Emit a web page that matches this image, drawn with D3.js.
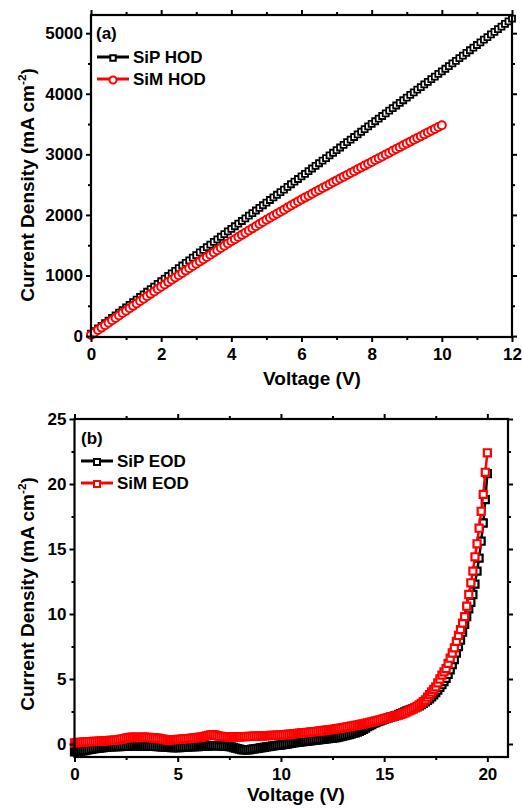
<!DOCTYPE html>
<html>
<head>
<meta charset="utf-8">
<script src="https://cdn.jsdelivr.net/npm/d3@7"></script>
<style>
  html, body { margin: 0; padding: 0; background: #fff; }
  svg { display: block; font-family: "Liberation Sans", Arial, sans-serif; font-weight: bold; }
</style>
</head>
<body>
<svg id="fig" width="522" height="808"></svg>
<script>
// ---------- Panel (a): hole-only devices ----------
const voltageStepA = 0.1;
const sipHOD = [
  40, 83, 126, 170, 213, 256, 299, 342, 386, 429, 472,
  515, 559, 602, 645, 688, 732, 775, 818, 862, 905,
  948, 992, 1035, 1078, 1121, 1165, 1208, 1251, 1295, 1338,
  1381, 1424, 1467, 1511, 1554, 1597, 1640, 1684, 1727, 1770,
  1813, 1857, 1900, 1943, 1987, 2030, 2073, 2116, 2160, 2203,
  2246, 2290, 2333, 2376, 2419, 2463, 2506, 2549, 2593, 2636,
  2679, 2723, 2766, 2809, 2853, 2896, 2939, 2983, 3026, 3070,
  3113, 3156, 3200, 3243, 3286, 3330, 3373, 3416, 3460, 3503,
  3546, 3590, 3633, 3676, 3720, 3763, 3806, 3850, 3893, 3937,
  3980, 4023, 4067, 4110, 4154, 4197, 4240, 4284, 4327, 4370,
  4413, 4457, 4500, 4544, 4587, 4631, 4674, 4718, 4761, 4805,
  4848, 4892, 4935, 4979, 5022, 5066, 5109, 5153, 5196, 5240
];
const simHOD = [
  20, 60, 100, 140, 180, 220, 260, 300, 340, 380, 420,
  460, 499, 539, 578, 618, 657, 697, 736, 776, 815,
  853, 891, 929, 967, 1005, 1043, 1081, 1119, 1157, 1195,
  1232, 1269, 1306, 1343, 1380, 1417, 1454, 1491, 1528, 1565,
  1600, 1636, 1671, 1707, 1742, 1778, 1813, 1849, 1884, 1920,
  1953, 1987, 2020, 2054, 2087, 2121, 2154, 2188, 2221, 2255,
  2286, 2318, 2349, 2381, 2412, 2444, 2475, 2507, 2538, 2570,
  2600, 2631, 2661, 2692, 2722, 2753, 2783, 2814, 2844, 2875,
  2905, 2936, 2966, 2997, 3027, 3058, 3088, 3119, 3149, 3180,
  3210, 3240, 3270, 3300, 3330, 3360, 3390, 3420, 3450, 3480
];
const xTicksA = [0, 2, 4, 6, 8, 10, 12];
const xMinorA = [1, 3, 5, 7, 9, 11];
const yTicksA = [0, 1000, 2000, 3000, 4000, 5000];
const yMinorA = [500, 1500, 2500, 3500, 4500];

// ---------- Panel (b): electron-only devices ----------
const voltageStepB = 0.1;
const sipEOD = [
  -0.60, -0.58, -0.56, -0.54, -0.52, -0.50, -0.47, -0.44, -0.41, -0.38, -0.35,
  -0.33, -0.31, -0.29, -0.27, -0.25, -0.24, -0.23, -0.22, -0.21, -0.20,
  -0.20, -0.20, -0.19, -0.19, -0.18, -0.17, -0.16, -0.15, -0.15, -0.15,
  -0.15, -0.16, -0.16, -0.17, -0.17, -0.18, -0.18, -0.19, -0.19, -0.20,
  -0.21, -0.22, -0.23, -0.24, -0.25, -0.26, -0.27, -0.28, -0.28, -0.28,
  -0.27, -0.26, -0.25, -0.24, -0.23, -0.22, -0.21, -0.21, -0.20, -0.20,
  -0.19, -0.18, -0.17, -0.16, -0.15, -0.14, -0.12, -0.12, -0.13, -0.15,
  -0.15, -0.16, -0.17, -0.18, -0.20, -0.23, -0.27, -0.31, -0.35, -0.40,
  -0.43, -0.45, -0.46, -0.45, -0.43, -0.40, -0.38, -0.35, -0.33, -0.30,
  -0.28, -0.25, -0.23, -0.20, -0.18, -0.15, -0.13, -0.11, -0.09, -0.08,
  -0.05, -0.03, 0.00, 0.02, 0.05, 0.08, 0.10, 0.12, 0.14, 0.16,
  0.18, 0.20, 0.22, 0.24, 0.26, 0.28, 0.30, 0.32, 0.34, 0.36,
  0.38, 0.40, 0.42, 0.44, 0.46, 0.48, 0.50, 0.53, 0.56, 0.60,
  0.64, 0.68, 0.72, 0.76, 0.81, 0.86, 0.92, 0.98, 1.05, 1.13,
  1.22, 1.33, 1.42, 1.50, 1.58, 1.65, 1.72, 1.78, 1.84, 1.90,
  1.96, 2.01, 2.06, 2.11, 2.16, 2.21, 2.27, 2.34, 2.40, 2.47,
  2.54, 2.60, 2.66, 2.72, 2.79, 2.86, 2.94, 3.03, 3.13, 3.24,
  3.36, 3.48, 3.62, 3.78, 3.96, 4.15, 4.35, 4.56, 4.80, 5.05,
  5.35, 5.70, 6.10, 6.50, 7.00, 7.50, 8.00, 8.60, 9.20, 9.80,
  10.40, 10.90, 11.50, 12.30, 13.30, 14.30, 15.60, 17.00, 18.80, 20.80
];
const simEOD = [
  0.08, 0.10, 0.12, 0.13, 0.15, 0.16, 0.17, 0.18, 0.19, 0.20, 0.20,
  0.21, 0.22, 0.23, 0.24, 0.25, 0.26, 0.27, 0.28, 0.29, 0.30,
  0.32, 0.35, 0.38, 0.42, 0.45, 0.48, 0.50, 0.52, 0.52, 0.50,
  0.50, 0.51, 0.52, 0.52, 0.51, 0.50, 0.49, 0.48, 0.47, 0.45,
  0.43, 0.40, 0.37, 0.33, 0.30, 0.30, 0.32, 0.33, 0.34, 0.35,
  0.36, 0.38, 0.39, 0.40, 0.42, 0.44, 0.45, 0.47, 0.48, 0.50,
  0.52, 0.55, 0.58, 0.62, 0.66, 0.70, 0.72, 0.70, 0.65, 0.60,
  0.58, 0.57, 0.56, 0.55, 0.55, 0.55, 0.55, 0.55, 0.55, 0.55,
  0.56, 0.56, 0.57, 0.58, 0.58, 0.59, 0.60, 0.60, 0.61, 0.62,
  0.63, 0.63, 0.64, 0.65, 0.66, 0.66, 0.67, 0.68, 0.68, 0.69,
  0.70, 0.72, 0.73, 0.75, 0.76, 0.78, 0.79, 0.81, 0.83, 0.85,
  0.86, 0.88, 0.90, 0.91, 0.93, 0.95, 0.96, 0.98, 1.00, 1.02,
  1.04, 1.06, 1.09, 1.11, 1.13, 1.15, 1.18, 1.20, 1.22, 1.25,
  1.28, 1.31, 1.34, 1.37, 1.40, 1.43, 1.46, 1.49, 1.52, 1.55,
  1.59, 1.62, 1.66, 1.70, 1.73, 1.77, 1.81, 1.85, 1.90, 1.95,
  1.98, 2.02, 2.06, 2.10, 2.14, 2.18, 2.22, 2.27, 2.33, 2.40,
  2.47, 2.55, 2.63, 2.71, 2.80, 2.90, 3.01, 3.13, 3.26, 3.40,
  3.60, 3.80, 4.00, 4.20, 4.40, 4.70, 5.00, 5.30, 5.55, 5.80,
  6.20, 6.60, 7.00, 7.40, 7.90, 8.35, 8.80, 9.30, 9.80, 10.60,
  11.50, 12.40, 13.30, 14.40, 15.40, 16.60, 17.90, 19.20, 20.90, 22.40
];
const xTicksB = [0, 5, 10, 15, 20];
const xMinorB = [2.5, 7.5, 12.5, 17.5];
const yTicksB = [0, 5, 10, 15, 20, 25];
const yMinorB = [2.5, 7.5, 12.5, 17.5, 22.5];

const svg = d3.select("#fig");

function drawFrame(g, x, y, opt) {
  const [x0, x1] = x.range();
  const [y0, y1] = y.range();
  const tickFont = opt.tickFont;

  // major ticks with labels, bottom & left
  const bottom = g.append("g").attr("transform", `translate(0,${y0})`)
    .call(d3.axisBottom(x).tickValues(opt.xTicks).tickSize(5).tickPadding(6).tickFormat(d3.format("d")));
  const left = g.append("g").attr("transform", `translate(${x0},0)`)
    .call(d3.axisLeft(y).tickValues(opt.yTicks).tickSize(5).tickPadding(3).tickFormat(d3.format("d")));
  // minor ticks bottom & left
  const bottomMinor = g.append("g").attr("transform", `translate(0,${y0})`)
    .call(d3.axisBottom(x).tickValues(opt.xMinor).tickSize(3).tickFormat(""));
  const leftMinor = g.append("g").attr("transform", `translate(${x0},0)`)
    .call(d3.axisLeft(y).tickValues(opt.yMinor).tickSize(3).tickFormat(""));
  // mirrored ticks top & right
  const top = g.append("g").attr("transform", `translate(0,${y1})`)
    .call(d3.axisTop(x).tickValues(opt.xTicks).tickSize(5).tickFormat(""));
  const topMinor = g.append("g").attr("transform", `translate(0,${y1})`)
    .call(d3.axisTop(x).tickValues(opt.xMinor).tickSize(3).tickFormat(""));
  const right = g.append("g").attr("transform", `translate(${x1},0)`)
    .call(d3.axisRight(y).tickValues(opt.yTicks).tickSize(5).tickFormat(""));
  const rightMinor = g.append("g").attr("transform", `translate(${x1},0)`)
    .call(d3.axisRight(y).tickValues(opt.yMinor).tickSize(3).tickFormat(""));

  [bottom, left, bottomMinor, leftMinor, top, topMinor, right, rightMinor].forEach(a => {
    a.select(".domain").remove();
    a.selectAll("line").attr("stroke", "#000").attr("stroke-width", 2);
    a.selectAll("text").attr("fill", "#000")
      .style("font-family", '"Liberation Sans", Arial, sans-serif')
      .style("font-weight", "bold").style("font-size", tickFont + "px");
  });

  g.append("rect")
    .attr("x", x0).attr("y", y1)
    .attr("width", x1 - x0).attr("height", y0 - y1)
    .attr("fill", "none").attr("stroke", "#000").attr("stroke-width", 2.2);
}

function drawSeries(g, x, y, values, step, color, shape, size, sw) {
  const pts = values.map((v, i) => [i * step, v]);
  g.append("path")
    .datum(pts)
    .attr("fill", "none")
    .attr("stroke", color)
    .attr("stroke-width", 2.5)
    .attr("d", d3.line().x(d => x(d[0])).y(d => y(d[1])));
  const sym = d3.symbol().type(shape).size(size);
  g.append("g").selectAll("path").data(pts).join("path")
    .attr("transform", d => `translate(${x(d[0])},${y(d[1])})`)
    .attr("d", sym)
    .attr("fill", "#fff")
    .attr("stroke", color)
    .attr("stroke-width", sw);
}

function legendRow(g, lx, ly, color, shape, size, label, fontSize) {
  g.append("line").attr("x1", lx).attr("x2", lx + 32).attr("y1", ly).attr("y2", ly)
    .attr("stroke", color).attr("stroke-width", 3);
  g.append("path")
    .attr("transform", `translate(${lx + 16},${ly + 1})`)
    .attr("d", d3.symbol().type(shape).size(size)())
    .attr("fill", "#fff").attr("stroke", color).attr("stroke-width", 2);
  g.append("text").attr("x", lx + 36).attr("y", ly + 5.5)
    .style("font-size", fontSize + "px").attr("fill", "#000").text(label);
}

function yTitle(g, cx, cy, fontSize) {
  const t = g.append("text")
    .attr("transform", `translate(${cx},${cy}) rotate(-90)`)
    .attr("text-anchor", "middle")
    .style("font-size", fontSize + "px").attr("fill", "#000");
  t.append("tspan").text("Current Density (mA cm");
  t.append("tspan").attr("dy", -8).style("font-size", (fontSize * 0.62) + "px").text("-2");
  t.append("tspan").attr("dy", 8).text(")");
}

// ----- panel (a) -----
const gA = svg.append("g");
const xA = d3.scaleLinear().domain([0, 12]).range([91, 512]);
const yA = d3.scaleLinear().domain([-15, 5300]).range([337, 15]);
drawSeries(gA, xA, yA, sipHOD, voltageStepA, "#000", d3.symbolSquare, 36, 1.8);
drawSeries(gA, xA, yA, simHOD, voltageStepA, "#ff0000", d3.symbolCircle, 50, 2);
drawFrame(gA, xA, yA, { xTicks: xTicksA, xMinor: xMinorA, yTicks: yTicksA, yMinor: yMinorA, tickFont: 17 });
gA.append("text").attr("x", 96).attr("y", 39).style("font-size", "17px").text("(a)");
legendRow(gA, 97, 57, "#000", d3.symbolSquare, 30, "SiP HOD", 17);
legendRow(gA, 97, 79, "#ff0000", d3.symbolCircle, 40, "SiM HOD", 17);
yTitle(gA, 34, 185, 19);
gA.append("text").attr("x", 312).attr("y", 385).attr("text-anchor", "middle")
  .style("font-size", "19px").text("Voltage (V)");

// ----- panel (b) -----
const gB = svg.append("g");
const xB = d3.scaleLinear().domain([0, 21]).range([74.5, 508]);
const yB = d3.scaleLinear().domain([-1, 25]).range([757, 419]);
drawSeries(gB, xB, yB, sipEOD, voltageStepB, "#000", d3.symbolSquare, 50, 2.2);
drawSeries(gB, xB, yB, simEOD, voltageStepB, "#ff0000", d3.symbolSquare, 50, 2.2);
drawFrame(gB, xB, yB, { xTicks: xTicksB, xMinor: xMinorB, yTicks: yTicksB, yMinor: yMinorB, tickFont: 17 });
gB.append("text").attr("x", 81).attr("y", 444).style("font-size", "17px").text("(b)");
legendRow(gB, 81, 461, "#000", d3.symbolSquare, 36, "SiP EOD", 17);
legendRow(gB, 81, 483, "#ff0000", d3.symbolSquare, 36, "SiM EOD", 17);
yTitle(gB, 34, 594, 19);
gB.append("text").attr("x", 296).attr("y", 801).attr("text-anchor", "middle")
  .style("font-size", "19px").text("Voltage (V)");
</script>
</body>
</html>
